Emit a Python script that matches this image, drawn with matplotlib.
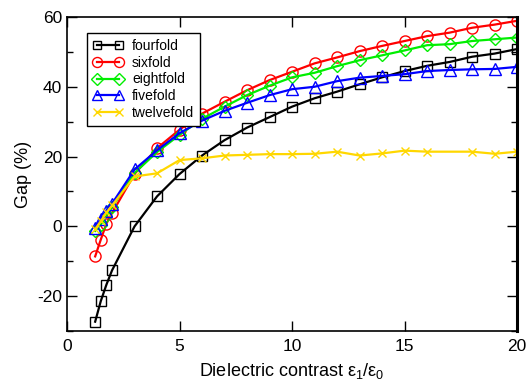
import matplotlib
matplotlib.use("Agg")
import matplotlib.pyplot as plt
import numpy as np

plt.rcParams['font.family'] = ['Liberation Sans', 'DejaVu Sans']
plt.rcParams['mathtext.fontset'] = 'custom'
plt.rcParams['mathtext.rm'] = 'Liberation Sans'
plt.rcParams['mathtext.it'] = 'Liberation Sans'
plt.rcParams['axes.unicode_minus'] = False

x_full = [1.25, 1.5, 1.75, 2, 3, 4, 5, 6, 7, 8, 9, 10, 11, 12, 13, 14, 15, 16, 17, 18, 19, 20]
fourfold = [-27.3, -21.4, -16.7, -12.6, 0.0, 8.6, 15.0, 20.3, 24.7, 28.3, 31.3, 34.3,
            36.7, 38.6, 40.7, 42.7, 44.5, 46.0, 47.1, 48.6, 49.5, 50.8]
sixfold = [-8.6, -3.8, 0.8, 3.8, 15.0, 22.4, 27.7, 32.3, 35.7, 39.0, 41.9, 44.3,
           46.7, 48.4, 50.2, 51.7, 53.1, 54.5, 55.5, 56.9, 57.8, 58.9]
eightfold = [-1.3, 0.5, 3.0, 5.5, 15.3, 21.3, 26.2, 30.8, 34.3, 37.6, 40.3, 42.7,
             44.0, 45.9, 47.6, 49.0, 50.4, 51.9, 52.2, 53.1, 53.6, 54.1]
fivefold = [-0.5, 2.0, 4.5, 6.5, 16.3, 21.8, 26.7, 30.3, 33.1, 35.4, 37.6, 39.3,
            40.0, 41.6, 42.6, 43.1, 43.6, 44.5, 44.8, 45.0, 45.1, 45.7]
x_twelve = [1.25, 1.5, 1.75, 2, 3, 4, 5, 6, 7, 8, 9, 10, 11, 12, 13, 14, 15, 16, 18, 19, 20]
twelvefold = [-0.8, 1.5, 4.0, 6.0, 14.3, 15.2, 19.0, 19.5, 20.3, 20.5, 20.7, 20.7,
              20.8, 21.4, 20.3, 20.9, 21.7, 21.4, 21.4, 20.8, 21.4]

fig = plt.figure(figsize=(5.32, 3.85), dpi=100)
ax = fig.add_axes([0.126, 0.140, 0.846, 0.816])

lw = 1.6
ax.plot(x_full, fourfold, color='black', lw=lw, marker='s', ms=7, mfc='none', mec='black', mew=1.0, label='fourfold')
ax.plot(x_full, sixfold, color='#ff0000', lw=lw, marker='o', ms=8, mfc='none', mec='#ff0000', mew=1.0, label='sixfold')
ax.plot(x_full, eightfold, color='#00ee00', lw=lw, marker='D', ms=6.5, mfc='none', mec='#00ee00', mew=1.0, label='eightfold')
ax.plot(x_full, fivefold, color='#0000ff', lw=lw, marker='^', ms=8, mfc='none', mec='#0000ff', mew=1.0, label='fivefold')
ax.plot(x_twelve, twelvefold, color='#ffd700', lw=lw, marker='x', ms=6, mec='#ffd700', mew=1.0, label='twelvefold')

ax.set_xlim(0, 20)
ax.set_ylim(-30, 60)
ax.set_xticks([0, 5, 10, 15, 20])
ax.set_yticks([-20, 0, 20, 40, 60])
ax.set_yticks([-30, -10, 10, 30, 50], minor=True)
ax.tick_params(axis='both', which='both', direction='in', top=True, right=True, labelsize=12.5)
ax.tick_params(which='major', length=7, width=1)
ax.tick_params(which='minor', length=4, width=1)
ax.tick_params(axis='x', pad=6)
for s in ['left', 'bottom', 'top']:
    ax.spines[s].set_linewidth(1.2)
ax.spines['right'].set_linewidth(2.2)

ax.set_xlabel('Dielectric contrast ε$_1$/ε$_0$', fontsize=13, labelpad=5)
ax.set_ylabel('Gap (%)', fontsize=13, labelpad=4)

leg = ax.legend(loc='upper left', bbox_to_anchor=(0.03, 0.97), numpoints=2, fontsize=10,
                fancybox=False, framealpha=1, edgecolor='black', handlelength=2.2,
                markerscale=0.9, borderpad=0.4, labelspacing=0.2, handletextpad=0.6)
leg.get_frame().set_linewidth(1.0)

fig.savefig('out.png', dpi=100)
